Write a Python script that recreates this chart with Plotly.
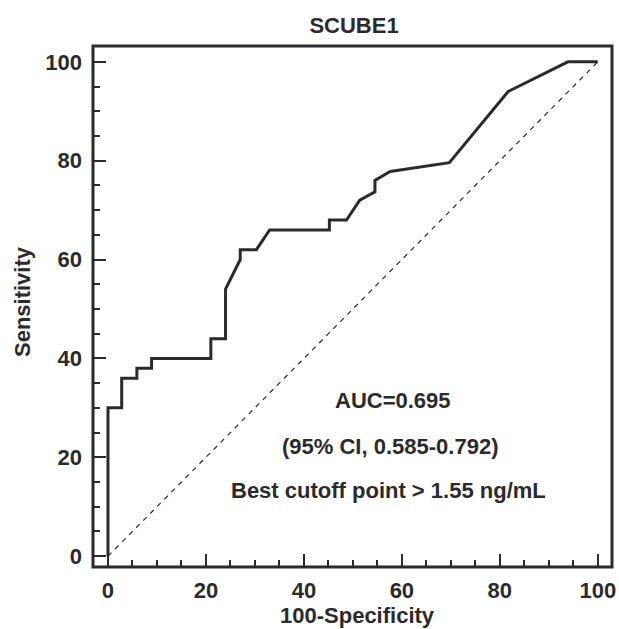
import plotly.graph_objects as go

# ROC curve points (100-Specificity, Sensitivity)
fpr = [0, 0, 2.8, 2.8, 5.9, 5.9, 8.9, 8.9, 21, 21, 24, 24, 27, 27, 30.3, 33, 45.2, 45.2, 48.7, 51.4, 54.5, 54.5, 57.6, 69.7, 81.7, 93.9, 100]
tpr = [0, 30, 30, 36, 36, 38, 38, 40, 40, 44, 44, 54, 60, 62, 62, 66, 66, 68, 68, 72, 73.7, 76, 77.8, 79.6, 94, 100, 100]
ref_line = [0, 100]

title_text = "SCUBE1"
x_label = "100-Specificity"
y_label = "Sensitivity"
notes = ["AUC=0.695", "(95% CI, 0.585-0.792)", "Best cutoff point > 1.55 ng/mL"]
note_x = [58.2, 57.6, 57.3]
note_y = [31.4, 22.1, 13.2]
ticks = [0, 20, 40, 60, 80, 100]

col = "#2b2b2b"
fnt = "Liberation Sans, Arial, sans-serif"

fig = go.Figure()
fig.add_trace(go.Scatter(x=ref_line, y=ref_line, mode="lines",
                         line=dict(color=col, width=1.2, dash="5px,5px"), hoverinfo="skip"))
fig.add_trace(go.Scatter(x=fpr, y=tpr, mode="lines",
                         line=dict(color=col, width=3)))

for t, x, y in zip(notes, note_x, note_y):
    fig.add_annotation(x=x, y=y, text=t, showarrow=False,
                       font=dict(family=fnt, size=22, color=col, weight="bold"))

# axis titles
fig.add_annotation(xref="paper", yref="paper", x=0.5087, y=-0.094, text=x_label,
                   showarrow=False, xanchor="center", yanchor="middle",
                   font=dict(family=fnt, size=22, color=col, weight="bold"))
fig.add_annotation(xref="paper", yref="paper", x=-0.1368, y=0.5086, text=y_label,
                   showarrow=False, xanchor="center", yanchor="middle", textangle=-90,
                   font=dict(family=fnt, size=22, color=col, weight="bold"))

# frame
fig.add_shape(type="rect", xref="paper", yref="paper", x0=0, y0=0, x1=1, y1=1,
              line=dict(color=col, width=3), layer="above")

axis_common = dict(showline=False, ticks="inside", ticklen=13, tickwidth=2, tickcolor=col,
                   tickvals=ticks, showgrid=False, zeroline=False,
                   tickfont=dict(family=fnt, size=22, color=col, weight="bold"),
                   minor=dict(ticks="inside", ticklen=7, tickwidth=1.5, tickcolor=col, dtick=5, showgrid=False))

fig.update_layout(
    width=619, height=629,
    margin=dict(l=93, r=7, t=46, b=62, autoexpand=False),
    paper_bgcolor="white", plot_bgcolor="white",
    showlegend=False,
    title=dict(text=title_text, x=354 / 619, xanchor="center", y=1 - 25 / 629, yanchor="middle",
               font=dict(family=fnt, size=22, color=col, weight="bold")),
    xaxis=dict(range=[-3.06, 102.9], ticklabelstandoff=8, **axis_common),
    yaxis=dict(range=[-2.2, 103.2], ticklabelstandoff=10, **axis_common),
)

fig.write_html("out.html", config={"displayModeBar": False},
               post_script="document.body.style.margin='0';")
